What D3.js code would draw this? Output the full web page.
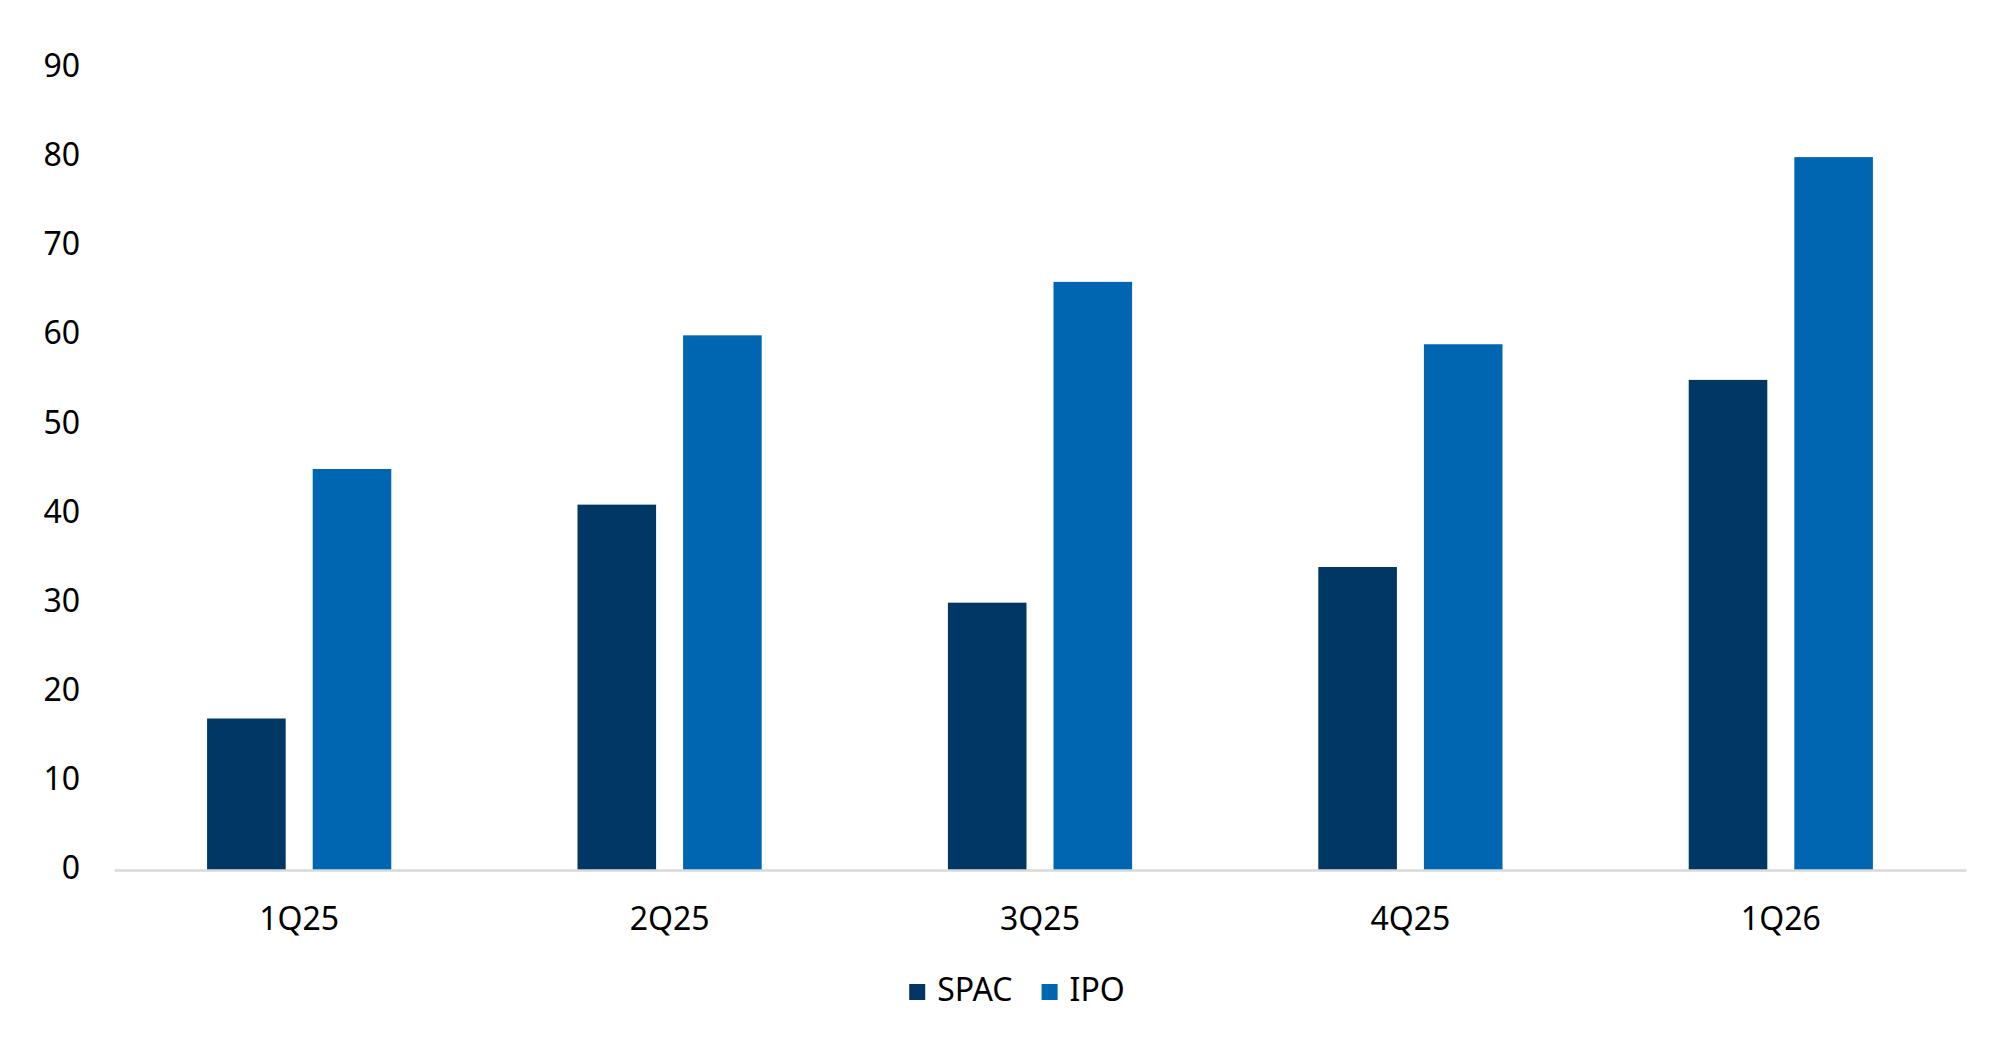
<!DOCTYPE html>
<html>
<head>
<meta charset="utf-8">
<script src="https://cdn.jsdelivr.net/npm/d3@7"></script>
<style>
  body { margin: 0; background: #fff; }
  text { font-family: "Noto Sans", sans-serif; fill: #000; }
</style>
</head>
<body>
<div id="chart"></div>
<script>
// data
const quarters = ["1Q25", "2Q25", "3Q25", "4Q25", "1Q26"];
const seriesNames = ["SPAC", "IPO"];
const spacValues = [17, 41, 30, 34, 55];
const ipoValues = [45, 60, 66, 59, 80];
const yTicks = [0, 10, 20, 30, 40, 50, 60, 70, 80, 90];
const colors = ["#003764", "#0066b1"];

const width = 2000, height = 1060;
const margin = {top: 68, right: 34, bottom: 190, left: 114};

const svg = d3.select("#chart")
  .append("svg")
    .attr("width", width)
    .attr("height", height);

// x scales: quarter groups, then series inside each group
const x0 = d3.scaleBand()
  .domain(quarters)
  .range([margin.left, width - margin.right])
  .paddingInner(0.5027)
  .paddingOuter(0.2513);

const x1 = d3.scaleBand()
  .domain(seriesNames)
  .range([0, x0.bandwidth()])
  .paddingInner(0.2557);

const y = d3.scaleLinear()
  .domain([0, 90])
  .range([height - margin.bottom, margin.top]);

const color = d3.scaleOrdinal().domain(seriesNames).range(colors);

const rows = quarters.map((q, i) => ({
  quarter: q,
  values: [
    {key: "SPAC", value: spacValues[i]},
    {key: "IPO", value: ipoValues[i]}
  ]
}));

// Y axis labels (no line, no ticks)
const yAxis = svg.append("g")
  .attr("transform", `translate(${margin.left - 34},0)`)
  .call(d3.axisLeft(y).tickValues(yTicks).tickSize(0).tickPadding(0));
yAxis.select(".domain").remove();
yAxis.selectAll("text")
  .attr("font-size", 32)
  .attr("font-family", "Noto Sans")
  .attr("fill", "#000")
  .attr("dy", "0.27em");

// bars
svg.append("g")
  .selectAll("g")
  .data(rows)
  .join("g")
    .attr("transform", d => `translate(${x0(d.quarter)},0)`)
  .selectAll("rect")
  .data(d => d.values)
  .join("rect")
    .attr("x", d => x1(d.key))
    .attr("y", d => y(d.value))
    .attr("width", x1.bandwidth())
    .attr("height", d => y(0) - y(d.value))
    .attr("fill", d => color(d.key));

// X axis baseline and labels
const xAxis = svg.append("g")
  .attr("transform", `translate(0,${y(0)})`)
  .call(d3.axisBottom(x0).tickSize(0).tickPadding(37));
xAxis.select(".domain")
  .attr("stroke", "#d9d9d9")
  .attr("stroke-width", 2.5);
xAxis.selectAll("text")
  .attr("font-size", 32)
  .attr("font-family", "Noto Sans")
  .attr("fill", "#000");

// legend
const legend = svg.append("g").attr("transform", "translate(0,1001)");
const items = legend.selectAll("g")
  .data(seriesNames)
  .join("g");
items.append("rect")
  .attr("y", -17)
  .attr("width", 16)
  .attr("height", 16)
  .attr("fill", d => color(d));
items.append("text")
  .attr("x", 28)
  .attr("font-size", 32)
  .text(d => d);

let cursor = 0;
items.each(function() {
  const g = d3.select(this);
  g.attr("transform", `translate(${cursor},0)`);
  cursor += 28 + g.select("text").node().getComputedTextLength() + 29;
});
const legendWidth = cursor - 29;
legend.attr("transform", `translate(${1017 - legendWidth / 2},1001)`);
</script>
</body>
</html>
